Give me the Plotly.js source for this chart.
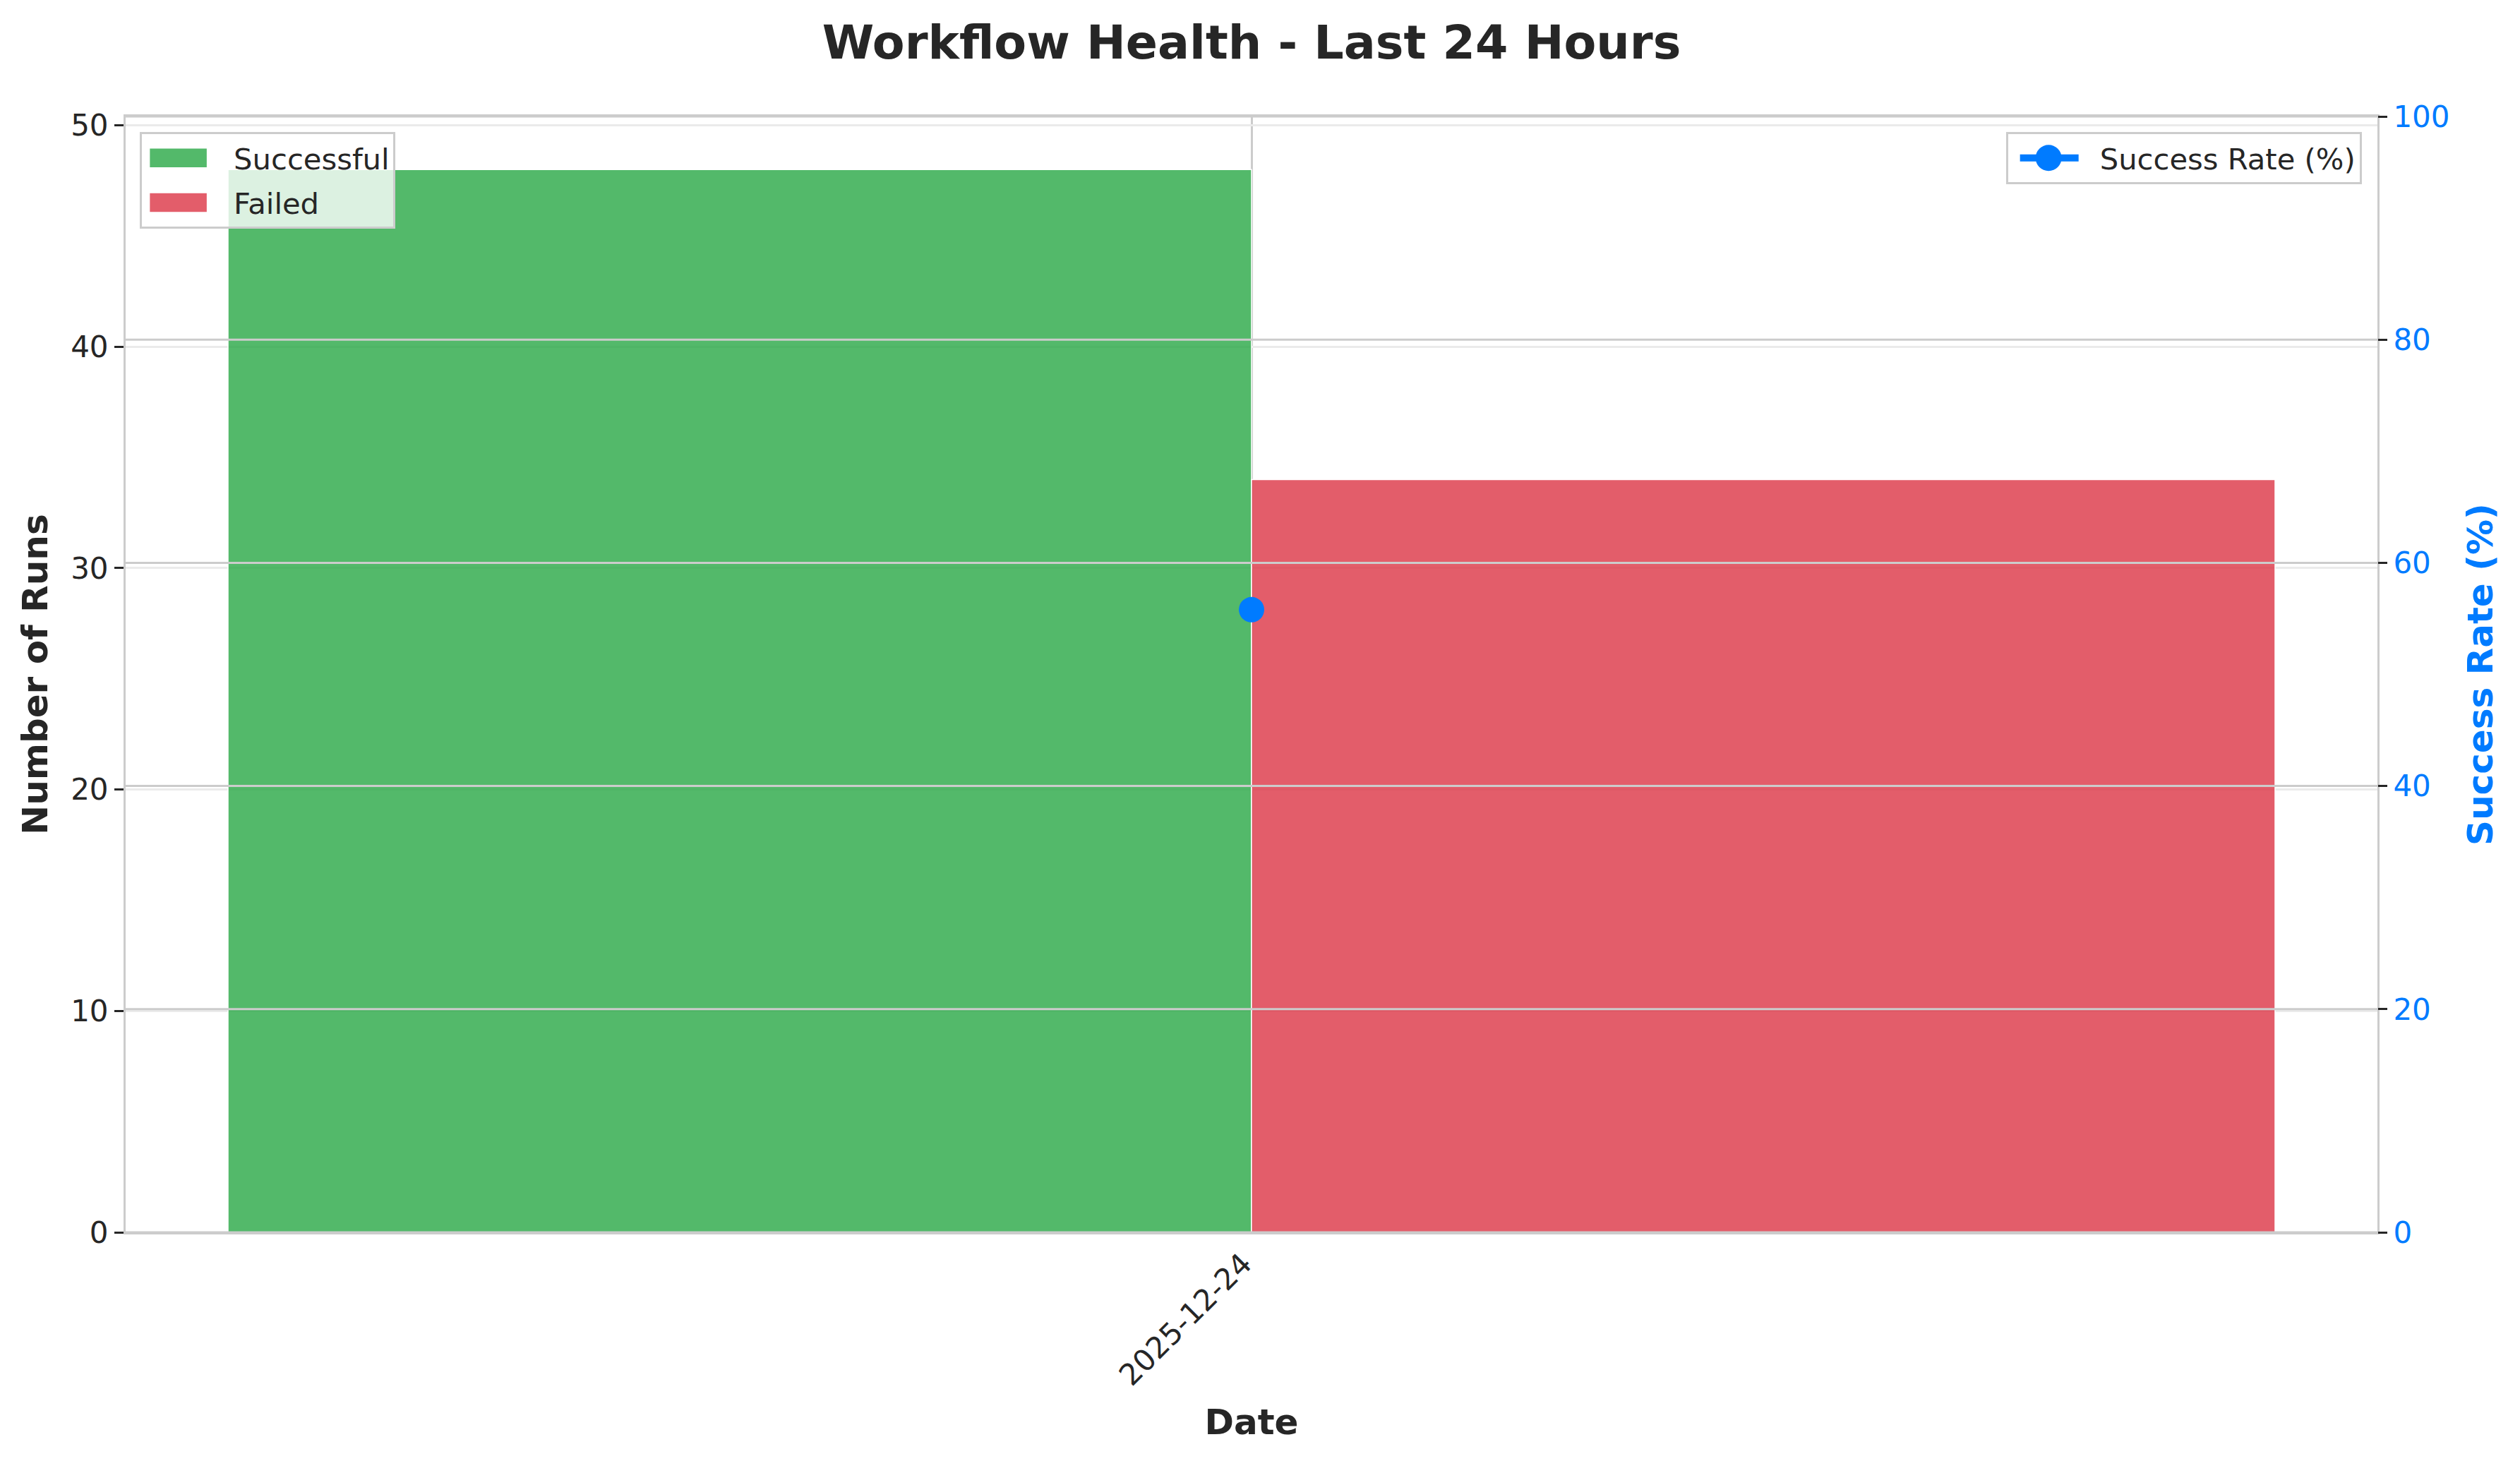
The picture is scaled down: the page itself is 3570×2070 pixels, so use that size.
<!DOCTYPE html>
<html>
<head>
<meta charset="utf-8">
<script src="https://cdn.plot.ly/plotly-3.0.1.min.js"></script>
<style>
  html, body { margin: 0; padding: 0; background: #ffffff; }
  #chart { width: 3570px; height: 2070px; }
</style>
</head>
<body>
<div id="chart"></div>
<script>
// ---- data ----
const dates = ['2025-12-24'];
const successfulRuns = [48];
const failedRuns = [34];
const successRate = [55.8];
const runTicks = [0, 10, 20, 30, 40, 50];
const rateTicks = [0, 20, 40, 60, 80, 100];

const FONT = 'DejaVu Sans, Liberation Sans, sans-serif';
const TEXT = '#262626';
const BLUE = '#007bff';

const traces = [
  {
    type: 'bar', name: 'Successful', x: dates, y: successfulRuns,
    xaxis: 'x', yaxis: 'y', legend: 'legend', legendgroup: 'succ',
    marker: { color: 'rgba(40,167,69,0.8)', line: { color: '#ffffff', width: 1.5 } },
    hoverinfo: 'x+y+name'
  },
  {
    type: 'bar', name: 'Failed', x: dates, y: failedRuns,
    xaxis: 'x', yaxis: 'y', legend: 'legend', legendgroup: 'fail',
    marker: { color: 'rgba(220,53,69,0.8)', line: { color: '#ffffff', width: 1.5 } },
    hoverinfo: 'x+y+name'
  },
  {
    type: 'scatter', mode: 'lines+markers', name: 'Success Rate (%)',
    x: dates, y: successRate, xaxis: 'x', yaxis: 'y2', legend: 'legend2',
    line: { color: BLUE, width: 10 },
    marker: { color: BLUE, size: 36 }
  }
];

// right-axis grid drawn over the bars (as in the reference)
const gridShapes = rateTicks.map(v => ({
  type: 'line', xref: 'paper', x0: 0, x1: 1, yref: 'y2', y0: v, y1: v,
  line: { color: '#cccccc', width: 3 }, layer: 'above'
}));

const layout = {
  width: 3570, height: 2070,
  paper_bgcolor: '#ffffff', plot_bgcolor: '#ffffff',
  margin: { l: 178, r: 202, t: 165, b: 324, pad: 0 },
  font: { family: FONT, color: TEXT, size: 42 },
  title: {
    text: 'Workflow Health - Last 24 Hours',
    font: { family: FONT, size: 66.7, color: TEXT, weight: 'bold' },
    x: 0.5, xanchor: 'center', xref: 'paper',
    y: 1 - 60 / 2070, yref: 'container', yanchor: 'middle'
  },
  barmode: 'group', bargap: 0, bargroupgap: 0,
  showlegend: true,
  xaxis: {
    type: 'category', range: [-0.55, 0.55],
    showline: true, mirror: true, linecolor: '#cccccc', linewidth: 3,
    showgrid: true, gridcolor: '#cccccc', gridwidth: 3,
    ticks: '', tickangle: -45, ticklabelshift: -12,
    tickfont: { family: FONT, size: 42, color: TEXT },
    title: { text: 'Date', font: { family: FONT, size: 50, color: TEXT, weight: 'bold' }, standoff: 26 },
    zeroline: false, automargin: false
  },
  yaxis: {
    range: [0, 50.4], tickvals: runTicks,
    showline: true, mirror: true, linecolor: '#cccccc', linewidth: 3,
    showgrid: true, gridcolor: '#ebebeb', gridwidth: 3,
    ticks: 'outside', ticklen: 13, tickwidth: 3, tickcolor: TEXT,
    tickfont: { family: FONT, size: 42, color: TEXT },
    title: { text: 'Number of Runs', font: { family: FONT, size: 50, color: TEXT, weight: 'bold' }, standoff: 17 },
    zeroline: false, automargin: false
  },
  yaxis2: {
    overlaying: 'y', side: 'right', range: [0, 100], tickvals: rateTicks,
    showline: false, showgrid: false,
    ticks: 'outside', ticklen: 13, tickwidth: 3, tickcolor: TEXT,
    tickfont: { family: FONT, size: 42, color: BLUE },
    title: { text: 'Success Rate (%)', font: { family: FONT, size: 50, color: BLUE, weight: 'bold' }, standoff: 26 },
    zeroline: false, automargin: false
  },
  legend: {
    x: 0.0063, y: 0.986, xanchor: 'left', yanchor: 'top',
    bgcolor: 'rgba(255,255,255,0.8)', bordercolor: '#cccccc', borderwidth: 3,
    font: { family: FONT, size: 41.7, color: TEXT },
    itemwidth: 120, traceorder: 'grouped', tracegroupgap: 6
  },
  legend2: {
    x: 0.993, y: 0.986, xanchor: 'right', yanchor: 'top',
    bgcolor: 'rgba(255,255,255,0.8)', bordercolor: '#cccccc', borderwidth: 3,
    font: { family: FONT, size: 41.7, color: TEXT },
    itemwidth: 120
  },
  shapes: gridShapes
};

function localCenter(p) {
  const bb = p.getBBox();
  return [bb.x + bb.width / 2, bb.y + bb.height / 2];
}

// enlarge legend handles to matplotlib-like proportions
function enlargeLegendHandles(gd) {
  const legends = gd.querySelectorAll('g.infolayer > g[class^="legend"]');
  legends.forEach(lg => {
    const bg = lg.querySelector('rect.bg');
    if (!bg) return;
    const bgLeft = bg.getBoundingClientRect().left;
    const rel = p => { const r = p.getBoundingClientRect(); return (r.left + r.right) / 2 - bgLeft; };

    lg.querySelectorAll('g.traces').forEach(tr => {
      const isLine = tr.querySelector('g.legendlines path');
      const pts = tr.querySelectorAll('g.legendpoints path');
      if (isLine) {
        tr.querySelectorAll('g.legendlines path').forEach(p => {
          const [lcx, lcy] = localCenter(p);
          const cx = lcx + (60 - rel(p));
          p.setAttribute('d', `M${cx - 41.5},${lcy}h83`);
          p.style.strokeWidth = '10px';
        });
        pts.forEach(p => {
          const [lcx, lcy] = localCenter(p);
          const cx = lcx + (59 - rel(p));
          const R = 18.5;
          p.setAttribute('d', `M${cx + R},${lcy}A${R},${R} 0 1,1 ${cx - R},${lcy}A${R},${R} 0 1,1 ${cx + R},${lcy}Z`);
        });
      } else {
        pts.forEach(p => {
          const [lcx, lcy] = localCenter(p);
          const cx = lcx + (53 - rel(p));
          p.setAttribute('d', `M${cx - 41},${lcy - 14}H${cx + 41}V${lcy + 14}H${cx - 41}Z`);
          p.style.strokeWidth = '1.5px';
        });
      }
    });
  });
}

const gd = document.getElementById('chart');
Plotly.newPlot(gd, traces, layout, { displayModeBar: false, staticPlot: true })
  .then(() => enlargeLegendHandles(gd));
</script>
</body>
</html>
